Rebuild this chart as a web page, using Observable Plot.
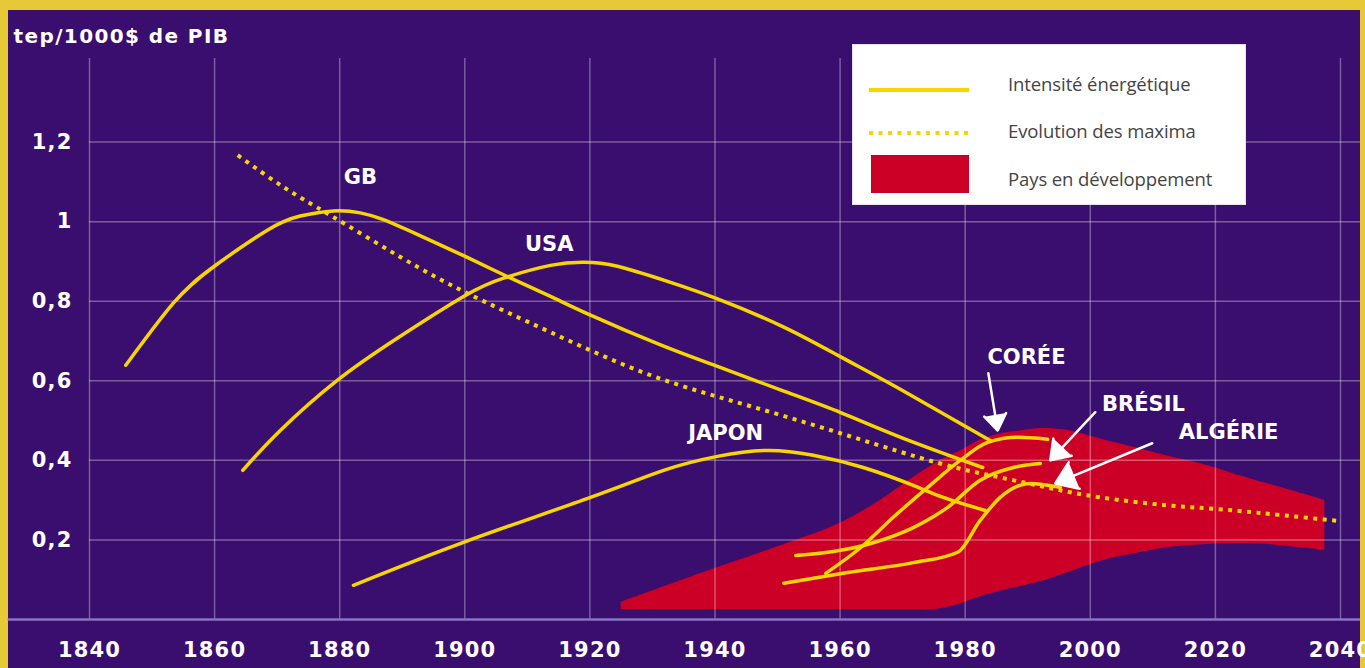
<!DOCTYPE html>
<html>
<head>
<meta charset="utf-8">
<script src="https://cdn.jsdelivr.net/npm/d3@7"></script>
<script src="https://cdn.jsdelivr.net/npm/@observablehq/plot@0.6"></script>
<style>
  html, body { margin: 0; padding: 0; }
  body { width: 1365px; height: 668px; background: #e7c836; position: relative; overflow: hidden; }
  #panel { position: absolute; left: 8px; top: 10px; width: 1352px; height: 658px; background: #3a0e6e; }
  #panel svg g[aria-label$="tick label"] { letter-spacing: 1.2px; font-size: 21px; }
  #legend { position: absolute; left: 852px; top: 44px; width: 394px; height: 161px; background: #ffffff; box-sizing: border-box; border: 1px solid #e6e2ee; }
  #legend .t { position: absolute; left: 155px; font-family: "Open Sans", Lato, sans-serif; font-size: 18.5px; color: #444; line-height: 1; transform: translateY(-50%); white-space: nowrap; letter-spacing: -0.1px; }
  #legend svg { position: absolute; left: 0; top: 0; }
</style>
</head>
<body>
<div id="panel"></div>
<div id="legend"></div>
<script>
// ---- data ----
const xTicks = [1840, 1860, 1880, 1900, 1920, 1940, 1960, 1980, 2000, 2020, 2040];
const yTicks = [0.2, 0.4, 0.6, 0.8, 1, 1.2];

const gbYear  = [1845.8, 1853.4, 1859.8, 1868.5, 1873.7, 1879.0, 1883.3, 1887.0, 1892.4, 1900.4, 1906.8, 1913.7, 1920.1, 1931.3, 1940.4, 1951.0, 1960.1, 1969.7, 1982.8];
const gbValue = [0.639, 0.795, 0.886, 0.979, 1.014, 1.027, 1.022, 1.005, 0.968, 0.910, 0.862, 0.812, 0.765, 0.690, 0.636, 0.574, 0.520, 0.458, 0.382];

const usaYear  = [1864.5, 1870.5, 1879.6, 1889.2, 1899.8, 1906.2, 1913.7, 1919.0, 1924.4, 1932.4, 1940.4, 1951.0, 1960.1, 1969.7, 1984.0];
const usaValue = [0.375, 0.475, 0.601, 0.707, 0.812, 0.858, 0.890, 0.898, 0.888, 0.850, 0.806, 0.735, 0.660, 0.578, 0.450];

const japYear  = [1882.2, 1899.8, 1920.1, 1931.8, 1940.4, 1948.4, 1955.7, 1963.7, 1971.7, 1976.5, 1983.2];
const japValue = [0.086, 0.194, 0.307, 0.375, 0.410, 0.425, 0.413, 0.382, 0.337, 0.307, 0.274];

const corYear  = [1957.7, 1963.3, 1968.5, 1974.0, 1979.2, 1983.6, 1988.4, 1993.2];
const corValue = [0.116, 0.181, 0.257, 0.332, 0.400, 0.445, 0.458, 0.453];

const braYear  = [1952.9, 1964.9, 1971.7, 1977.2, 1982.4, 1987.7, 1992.0];
const braValue = [0.161, 0.191, 0.231, 0.282, 0.350, 0.382, 0.392];

const algYear  = [1951.0, 1961.2, 1971.7, 1978.8, 1982.4, 1985.6, 1990.4, 1995.2];
const algValue = [0.091, 0.118, 0.143, 0.169, 0.249, 0.307, 0.342, 0.332];

const maxYear  = [1863.7, 1871.0, 1878.5, 1889.7, 1900.4, 1913.7, 1929.7, 1945.7, 1961.7, 1976.0, 1985.6, 1993.6, 2001.6, 2012.3, 2022.9, 2040];
const maxValue = [1.167, 1.087, 1.016, 0.911, 0.820, 0.722, 0.614, 0.536, 0.460, 0.392, 0.357, 0.330, 0.307, 0.287, 0.274, 0.247];

const devYear  = [1925, 1940, 1953, 1960, 1966, 1972, 1975, 1977, 1980, 1982, 1986, 1988, 1992, 1996, 2002, 2007, 2012, 2018, 2023, 2028, 2037.5];
const devHigh  = [0.043, 0.128, 0.199, 0.242, 0.295, 0.360, 0.390, 0.408, 0.430, 0.448, 0.468, 0.472, 0.480, 0.476, 0.452, 0.433, 0.412, 0.390, 0.366, 0.343, 0.300];
const devLow   = [0.025, 0.025, 0.025, 0.025, 0.025, 0.025, 0.025, 0.030, 0.043, 0.055, 0.073, 0.080, 0.095, 0.115, 0.148, 0.165, 0.180, 0.188, 0.191, 0.189, 0.174];

const labelNames = ["GB", "USA", "JAPON", "CORÉE", "BRÉSIL", "ALGÉRIE"];
const labelYear  = [1883.3, 1913.5, 1941.7, 1989.8, 2008.5, 2022.1];
const labelValue = [1.112, 0.943, 0.468, 0.659, 0.541, 0.470];

const arrowFromYear  = [1983.7, 2000.8, 2009.9];
const arrowFromValue = [0.619, 0.521, 0.443];
const arrowToYear    = [1985.2, 1993.6, 1994.4];
const arrowToValue   = [0.475, 0.400, 0.342];

const legendLabels = ["Intensité énergétique", "Evolution des maxima", "Pays en développement"];

// ---- build tables ----
const series = (name, xs, ys) => xs.map((x, i) => ({country: name, year: x, value: ys[i]}));
const bigCountries = [
  ...series("GB", gbYear, gbValue),
  ...series("USA", usaYear, usaValue),
  ...series("JAPON", japYear, japValue)
];
const devCountries = [
  ...series("CORÉE", corYear, corValue),
  ...series("BRÉSIL", braYear, braValue),
  ...series("ALGÉRIE", algYear, algValue)
];
const maxima = maxYear.map((x, i) => ({year: x, value: maxValue[i]}));
const dev = devYear.map((x, i) => ({year: x, low: devLow[i], high: devHigh[i]}));
const labels = labelNames.map((n, i) => ({name: n, year: labelYear[i], value: labelValue[i]}));
const arrows = arrowFromYear.map((x, i) => ({x1: x, y1: arrowFromValue[i], x2: arrowToYear[i], y2: arrowToValue[i]}));

const YELLOW = "#f7d600";
const RED = "#cc0026";
const GRID = "rgba(255,255,255,0.33)";
const FONT = "DejaVu Sans, Verdana, sans-serif";

const chart = Plot.plot({
  width: 1352,
  height: 658,
  marginLeft: 81,
  marginRight: 0,
  marginTop: 48,
  marginBottom: 49,
  style: {background: "transparent", color: "white", fontFamily: FONT, fontSize: "20px", fontWeight: "bold", overflow: "visible"},
  x: {domain: [1840, 2043.2], ticks: xTicks, tickFormat: d => String(d), tickSize: 0, tickPadding: 23, label: null},
  y: {domain: [0, 1.41], ticks: yTicks, tickFormat: d => d === 1 ? "1" : d.toFixed(1).replace(".", ","), tickSize: 0, tickPadding: 17, label: null},
  marks: [
    Plot.areaY(dev, {x: "year", y1: "low", y2: "high", fill: RED, curve: "catmull-rom"}),
    Plot.ruleX(xTicks, {y1: 0, y2: 1.41, stroke: GRID, strokeWidth: 1.5}),
    Plot.ruleY(yTicks, {stroke: GRID, strokeWidth: 1.5}),
    Plot.ruleY([0], {x1: 1827, x2: 2043.2, stroke: "#8a73c2", strokeWidth: 2.5}),
    Plot.line(maxima, {x: "year", y: "value", stroke: YELLOW, strokeWidth: 4, strokeDasharray: "4 5.5", strokeLinecap: "butt", curve: "natural"}),
    Plot.line(bigCountries, {x: "year", y: "value", z: "country", stroke: YELLOW, strokeWidth: 3.5, curve: "natural"}),
    Plot.line(devCountries, {x: "year", y: "value", z: "country", stroke: YELLOW, strokeWidth: 3.5, curve: "monotone-x"}),
    Plot.arrow(arrows, {x1: "x1", y1: "y1", x2: "x2", y2: "y2", stroke: "white", fill: "white", strokeWidth: 2.5, headLength: 15, headAngle: 70}),
    Plot.text(labels, {x: "year", y: "value", text: "name", fill: "white", fontSize: 21, fontWeight: "bold", fontFamily: FONT}),
    Plot.text(["tep/1000$ de PIB"], {frameAnchor: "top-left", dx: -76, dy: -30, textAnchor: "start", fill: "white", fontSize: 20, fontWeight: "bold", fontFamily: FONT, style: "letter-spacing:1.4px"})
  ]
});
chart.style.position = "absolute";
chart.style.left = "0px";
chart.style.top = "0px";
chart.querySelectorAll("text").forEach(t => { if (t.textContent === "tep/1000$ de PIB") t.style.letterSpacing = "1.4px"; });
document.getElementById("panel").appendChild(chart);

// ---- legend (HTML overlay) ----
const lg = document.getElementById("legend");
const ns = "http://www.w3.org/2000/svg";
const sw = document.createElementNS(ns, "svg");
sw.setAttribute("width", 394); sw.setAttribute("height", 161);
const mk = (tag, attrs) => { const e = document.createElementNS(ns, tag); for (const k in attrs) e.setAttribute(k, attrs[k]); sw.appendChild(e); };
mk("line", {x1: 16, x2: 116, y1: 45, y2: 45, stroke: YELLOW, "stroke-width": 4});
mk("line", {x1: 16, x2: 116, y1: 88, y2: 88, stroke: YELLOW, "stroke-width": 4, "stroke-dasharray": "4 5.5"});
mk("rect", {x: 18, y: 110, width: 98, height: 38, fill: RED});
lg.appendChild(sw);
const ty = [39, 86, 134];
legendLabels.forEach((t, i) => {
  const d = document.createElement("div");
  d.className = "t"; d.textContent = t; d.style.top = ty[i] + "px";
  lg.appendChild(d);
});
</script>
</body>
</html>
